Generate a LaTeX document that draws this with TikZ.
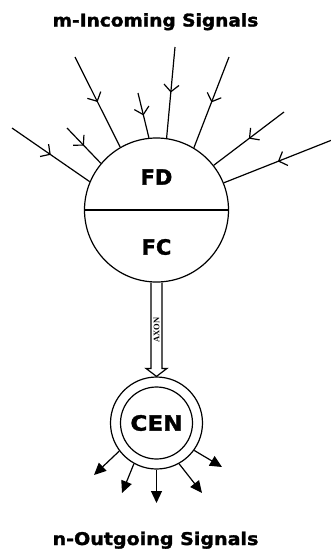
\documentclass[tikz,border=0pt]{standalone}
\usepackage{fontspec}
\setmainfont{DejaVu Sans}[BoldFeatures={FakeBold=1.6}]
\newfontfamily\axonfont{Liberation Serif}
\usetikzlibrary{arrows.meta,decorations.markings,calc}
\begin{document}
\begin{tikzpicture}[x=1pt,y=-1pt,line width=1.2pt,
  heading/.style={font=\bfseries\fontsize{17.5}{20}\selectfont, anchor=base, inner sep=0},
  part/.style={font=\bfseries\fontsize{21}{24}\selectfont, inner sep=0},
  incoming/.style={postaction={decorate},decoration={markings,mark=at position 0.5 with {\arrow{Straight Barb[length=7pt,width=15pt]}}}},
  outgoing/.style={-{Triangle[length=12pt,width=11pt]}},
  ring/.style={circle,draw,inner sep=0}]
\useasboundingbox (0,0) rectangle (331,550);

% titles
\node[heading] (tin) at (155.5,26.5) {\scalebox{1.06}[1]{m-Incoming Signals}};
\node[heading] (tout) at (155.5,545) {\scalebox{1.09}[1]{n-Outgoing Signals}};

% soma
\node[ring,minimum size=144pt] (soma) at (156.5,210) {};
\draw (soma.west) -- (soma.east);
\node[part] (fd) at (156.5,177) {FD};
\node[part] (fc) at (156.5,247) {FC};

% incoming signals
\coordinate (i1) at (12,128);
\coordinate (i2) at (67,128);
\coordinate (i3) at (75,57);
\coordinate (i4) at (138,93);
\coordinate (i5) at (175,47);
\coordinate (i6) at (229,57);
\coordinate (i7) at (284,112);
\coordinate (i8) at (332,140);
\draw[incoming] (i1) -- (soma.157.2);
\draw[incoming] (i2) -- (soma.140.2);
\draw[incoming] (i3) -- (soma.120.1);
\draw[incoming] (i4) -- (soma.96.6);
\draw[incoming] (i5) -- (soma.82.6);
\draw[incoming] (i6) -- (soma.59.2);
\draw[incoming] (i7) -- (soma.38.5);
\draw[incoming] (i8) -- (soma.22.8);

% CEN
\node[ring,minimum size=92pt] (cen) at (156.5,423) {};
\node[ring,minimum size=72pt,part] (ceninner) at (cen.center) {\scalebox{1.1}[1]{CEN}};

% axon
\draw ($(soma.south)+(-5.5,0)$) -- ($(cen.north)+(-5.5,-8)$) -- ++(-5,0) -- (cen.north)
      -- ($(cen.north)+(10.5,-8)$) -- ++(-5,0) -- ($(soma.south)+(5.5,0)$);
\node[font=\axonfont\bfseries\fontsize{8.5}{9}\selectfont, rotate=90, inner sep=0] (axlabel) at (156.5,330) {AXON};

% outgoing signals
\coordinate (o1) at (94,475);
\coordinate (o2) at (122,493);
\coordinate (o3) at (156.5,503);
\coordinate (o4) at (202,493);
\coordinate (o5) at (222,467);
\draw[outgoing] (cen.217.6) -- (o1);
\draw[outgoing] (cen.241.5) -- (o2);
\draw[outgoing] (cen.270) -- (o3);
\draw[outgoing] (cen.299.7) -- (o4);
\draw[outgoing] (cen.324.6) -- (o5);
\end{tikzpicture}
\end{document}
